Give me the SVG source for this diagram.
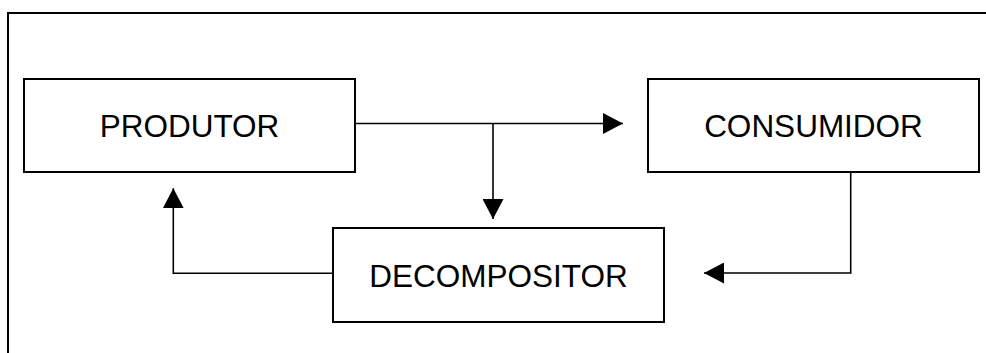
<svg xmlns="http://www.w3.org/2000/svg" width="986" height="353" viewBox="0 0 986 353">
  <defs>
    <style>
      .box { fill: #ffffff; stroke: #000000; stroke-width: 2; }
      .lbl { font-family: "Liberation Sans", Arial, sans-serif; font-size: 31.5px; fill: #000000; text-anchor: middle; }
      .conn { fill: none; stroke: #000000; stroke-width: 1.6; }
      .frame { fill: none; stroke: #000000; stroke-width: 2; }
    </style>
    <marker id="arrow" viewBox="0 0 20 21" refX="20" refY="10.5" markerWidth="20" markerHeight="21" markerUnits="userSpaceOnUse" orient="auto">
      <path d="M0,0 L20,10.5 L0,21 Z" fill="#000000"/>
    </marker>
  </defs>
  <rect width="986" height="353" fill="#ffffff"/>
  <path class="frame" d="M8,354 L8,13 L987,13"/>
  <g id="connectors">
    <path class="conn" d="M355,123.5 L623,123.5" marker-end="url(#arrow)"/>
    <path class="conn" d="M493,123.5 L493,219" marker-end="url(#arrow)"/>
    <path class="conn" d="M850.7,172 L850.7,273 L704,273" marker-end="url(#arrow)"/>
    <path class="conn" d="M333,273.3 L173.3,273.3 L173.3,188.3" marker-end="url(#arrow)"/>
  </g>
  <g id="produtor">
    <rect class="box" x="24" y="79" width="331" height="93"/>
    <text class="lbl" x="189.5" y="136.5">PRODUTOR</text>
  </g>
  <g id="consumidor">
    <rect class="box" x="648" y="79" width="331" height="93"/>
    <text class="lbl" x="813.5" y="136.5">CONSUMIDOR</text>
  </g>
  <g id="decompositor">
    <rect class="box" x="333" y="228" width="331" height="94"/>
    <text class="lbl" x="498.5" y="286.5">DECOMPOSITOR</text>
  </g>
</svg>
